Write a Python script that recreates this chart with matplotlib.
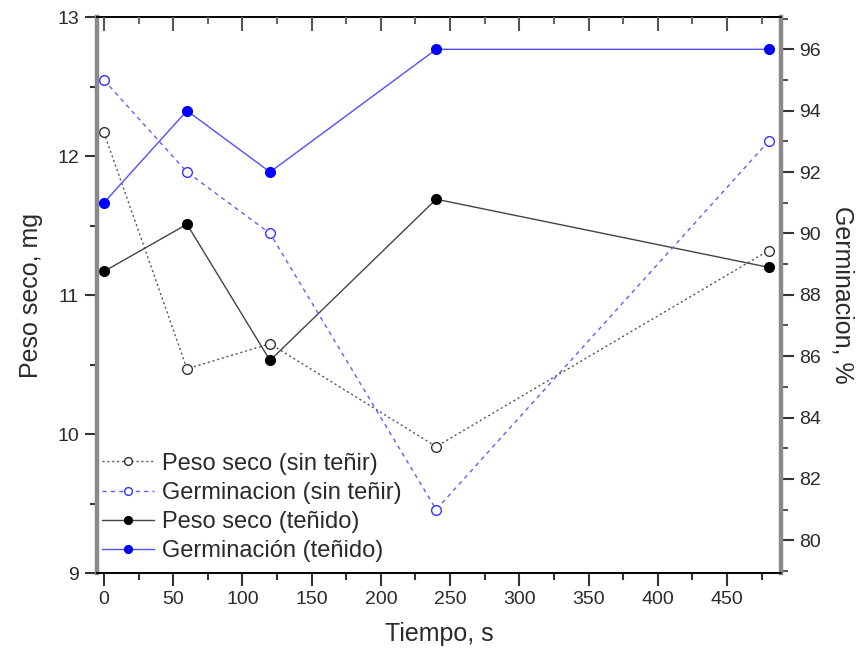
import matplotlib
matplotlib.use("Agg")
import matplotlib.pyplot as plt
from matplotlib.ticker import MultipleLocator, FixedLocator

plt.rcParams['font.family'] = ['Liberation Sans', 'DejaVu Sans']

tiempo = [0, 60, 120, 240, 480]
peso_sin = [12.17, 10.47, 10.65, 9.91, 11.32]
peso_ten = [11.17, 11.51, 10.53, 11.69, 11.20]
germ_sin = [95, 92, 90, 81, 93]
germ_ten = [91, 94, 92, 96, 96]

xticks = [0, 50, 100, 150, 200, 250, 300, 350, 400, 450]
yticks_left = [9, 10, 11, 12, 13]
yticks_right = [80, 82, 84, 86, 88, 90, 92, 94, 96]

fig = plt.figure(figsize=(8.62, 6.58), dpi=100)
pos = [0.1125, 0.129, 0.7935, 0.845]
ax = fig.add_axes(pos)
ax2 = ax.twinx()

txt = '#2a2a2a'
spine_gray = '#8a8a8a'

l1, = ax.plot(tiempo, peso_sin, ls=(0, (1.5, 2)), color='#555555', lw=1, marker='o', ms=7,
              mfc='white', mec='#333333', mew=1, label='Peso seco (sin teñir)')
l3, = ax.plot(tiempo, peso_ten, ls='-', color='#444444', lw=1, marker='o', ms=7,
              mfc='black', mec='black', label='Peso seco (teñido)')
l2, = ax2.plot(tiempo, germ_sin, ls=(0, (3, 3)), color='#5f5fff', lw=1, marker='o', ms=7,
               mfc='white', mec='#3333ff', mew=1, label='Germinacion (sin teñir)')
l4, = ax2.plot(tiempo, germ_ten, ls='-', color='#4f4fff', lw=1, marker='o', ms=7,
               mfc='#0000ff', mec='#0000ff', label='Germinación (teñido)')

ax.set_xlim(-5, 489)
ax.set_ylim(9, 13)
ax2.set_ylim(78.93, 97.05)

ax.xaxis.set_major_locator(FixedLocator(xticks))
ax.xaxis.set_minor_locator(MultipleLocator(25))
ax.yaxis.set_major_locator(FixedLocator(yticks_left))
ax.yaxis.set_minor_locator(MultipleLocator(0.5))
ax2.yaxis.set_major_locator(FixedLocator(yticks_right))
ax2.yaxis.set_minor_locator(MultipleLocator(1))

for a in (ax, ax2):
    for s in a.spines.values():
        s.set_color('black')
        s.set_linewidth(1.2)
ax.spines['left'].set_color(spine_gray)
ax.spines['left'].set_linewidth(3.2)
ax2.spines['right'].set_color(spine_gray)
ax2.spines['right'].set_linewidth(3.2)
ax2.spines['left'].set_visible(False)
ax.spines['right'].set_visible(False)

ax.tick_params(axis='both', which='major', direction='out', length=9, width=1.5,
               color='#333333', labelsize=14, labelcolor=txt, pad=4)
ax.tick_params(axis='both', which='minor', direction='out', length=5, width=1.5,
               color='#333333')
ax2.tick_params(axis='y', which='major', direction='out', length=9, width=1.5,
                color='#333333', labelsize=14, labelcolor=txt, pad=4)
ax2.tick_params(axis='y', which='minor', direction='out', length=5, width=1.5,
                color='#555555')

ax.set_xlabel('Tiempo, s', fontsize=18, color=txt, labelpad=10)
ax.set_ylabel('Peso seco, mg', fontsize=18, color=txt, labelpad=10)
ax2.set_ylabel('Germinacion, %', fontsize=18, color=txt, rotation=270, labelpad=24)

# mirrored inward ticks on the top axis
ax3 = fig.add_axes(pos, frameon=False)
ax3.set_xlim(ax.get_xlim())
ax3.xaxis.set_major_locator(FixedLocator(xticks))
ax3.xaxis.set_minor_locator(MultipleLocator(25))
ax3.tick_params(axis='x', which='major', direction='in', top=True, bottom=False,
                labelbottom=False, labeltop=False, length=10, width=1.5, color='#555555')
ax3.tick_params(axis='x', which='minor', direction='in', top=True, bottom=False,
                length=5, width=1.5, color='#666666')
ax3.set_yticks([])
ax3.patch.set_visible(False)

leg = ax.legend(handles=[l1, l2, l3, l4], loc='lower left', frameon=False,
                fontsize=17, bbox_to_anchor=(0.007, 0.02), borderpad=0,
                borderaxespad=0, handlelength=2.2, handletextpad=0.35,
                labelspacing=0.3, labelcolor=txt, markerscale=0.8)

fig.savefig('out.png', dpi=100)
